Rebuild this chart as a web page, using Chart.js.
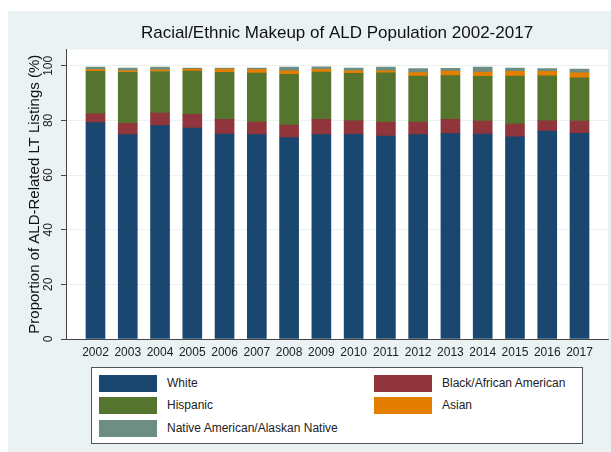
<!DOCTYPE html>
<html>
<head>
<meta charset="utf-8">
<script src="https://cdn.jsdelivr.net/npm/chart.js@4"></script>
<style>
  body { margin: 0; background: #fff; }
  #wrap { position: relative; width: 611px; height: 452px; }
  #legend {
    position: absolute; left: 91px; top: 367px; width: 490px; height: 75px;
    border: 1px solid #555; background: #fff;
    font-family: "Liberation Sans", Arial, sans-serif; font-size: 12px; color: #222;
  }
  .item { position: absolute; height: 17px; line-height: 17px; white-space: nowrap; }
  .item span.box { position: absolute; left: 0; top: 0; width: 58px; height: 17px; }
  .item span.txt { position: absolute; left: 68px; top: 0; }
</style>
</head>
<body>
<div id="wrap">
  <canvas id="myChart" width="611" height="452"></canvas>
  <div id="legend"></div>
</div>
<script>
// datos (porcentajes)
const years = [2002, 2003, 2004, 2005, 2006, 2007, 2008, 2009, 2010, 2011, 2012, 2013, 2014, 2015, 2016, 2017];
const white    = [79.2, 74.8, 78.1, 77.2, 75.0, 74.8, 73.7, 74.8, 74.9, 74.3, 74.8, 75.2, 75.0, 74.0, 76.1, 75.3];
const black    = [3.2, 4.1, 4.6, 5.0, 5.4, 4.6, 4.6, 5.6, 5.0, 5.0, 4.6, 5.2, 4.8, 4.7, 3.8, 4.5];
const hispanic = [15.6, 18.7, 15.2, 15.9, 17.2, 17.9, 18.6, 17.3, 17.3, 18.1, 16.8, 16.0, 16.3, 17.5, 16.4, 15.8];
const asian    = [0.6, 0.6, 0.6, 0.7, 1.2, 1.4, 1.3, 1.0, 1.0, 0.8, 1.3, 1.7, 1.6, 1.8, 1.7, 1.8];
const native   = [0.9, 1.0, 1.0, 0.4, 0.4, 0.5, 1.3, 0.9, 1.0, 1.3, 1.5, 1.0, 1.8, 1.2, 1.0, 1.4];
const yTicks = [0, 20, 40, 60, 80, 100];

const font = "'Liberation Sans', Arial, sans-serif";

//fondo tipo stata
const background = {
  id: 'background',
  beforeDraw(chart) {
    const c = chart.ctx, a = chart.chartArea;
    c.save();
    c.fillStyle = '#ffffff';
    c.fillRect(0, 0, chart.width, chart.height);
    c.fillStyle = '#eaf2f3';
    c.fillRect(8, 11, chart.width - 8, chart.height - 11);
    c.fillStyle = '#ffffff';
    c.fillRect(a.left, a.top, a.right - a.left, a.bottom - a.top);
    c.restore();
  },
  afterLayout(chart) {
    // centrar el titulo sobre el area del grafico
    if (chart.titleBlock) {
      chart.titleBlock.left = chart.chartArea.left;
      chart.titleBlock.right = chart.chartArea.right;
    }
  }
};

const ctx = document.getElementById('myChart');

const chart = new Chart(ctx, {
  type: 'bar',
  data: {
    labels: years,
    datasets: [
      { label: 'White', data: white, backgroundColor: '#1a476f' },
      { label: 'Black/African American', data: black, backgroundColor: '#90353b' },
      { label: 'Hispanic', data: hispanic, backgroundColor: '#55752f' },
      { label: 'Asian', data: asian, backgroundColor: '#e37e00' },
      { label: 'Native American/Alaskan Native', data: native, backgroundColor: '#6e8e84' }
    ]
  },
  options: {
    responsive: false,
    animation: false,
    layout: { padding: { left: 8, right: 3, top: 0, bottom: 83 } },
    datasets: { bar: { barThickness: 19, borderWidth: 0 } },
    plugins: {
      legend: { display: false },
      tooltip: { enabled: false },
      title: {
        display: true,
        text: 'Racial/Ethnic Makeup of ALD Population 2002-2017',
        color: '#111',
        font: { family: font, size: 17, weight: 'normal' },
        padding: { top: 23, bottom: 6 }
      }
    },
    scales: {
      x: {
        type: 'linear',
        offset: false,
        stacked: true,
        min: 2001.086,
        max: 2017.883,
        afterBuildTicks: s => { s.ticks = years.map(v => ({ value: v })); },
        afterFit: s => { s.height = 30; },
        grid: { display: false, drawTicks: false, offset: false },
        border: { display: true, color: '#444', width: 1 },
        ticks: {
          autoSkip: false, minRotation: 0, maxRotation: 0, padding: 6,
          color: '#222', font: { family: font, size: 12 },
          callback: v => String(v)
        }
      },
      y: {
        stacked: true,
        min: 0,
        max: 106,
        afterBuildTicks: s => { s.ticks = yTicks.map(v => ({ value: v })); },
        afterFit: s => { s.width = 58; },
        grid: { color: '#eaf2f3', lineWidth: 1, tickLength: 5, tickColor: '#444' },
        border: { display: true, color: '#444', width: 1 },
        ticks: {
          minRotation: 90, maxRotation: 90, crossAlign: 'center', padding: 2,
          color: '#222', font: { family: font, size: 12 }
        },
        title: {
          display: true,
          text: 'Proportion of ALD-Related LT Listings (%)',
          color: '#111',
          font: { family: font, size: 15 },
          padding: { top: 18, bottom: 0 }
        }
      }
    }
  },
  plugins: [background]
});

//leyenda en html, dos columnas
const legend = document.getElementById('legend');
const cols = [7, 282];
const rows = [7, 29, 52];
chart.data.datasets.forEach((ds, i) => {
  const item = document.createElement('div');
  item.className = 'item';
  item.style.left = cols[i % 2] + 'px';
  item.style.top = rows[Math.floor(i / 2)] + 'px';
  item.innerHTML = '<span class="box" style="background:' + ds.backgroundColor + '"></span><span class="txt">' + ds.label + '</span>';
  legend.appendChild(item);
});
</script>
</body>
</html>
